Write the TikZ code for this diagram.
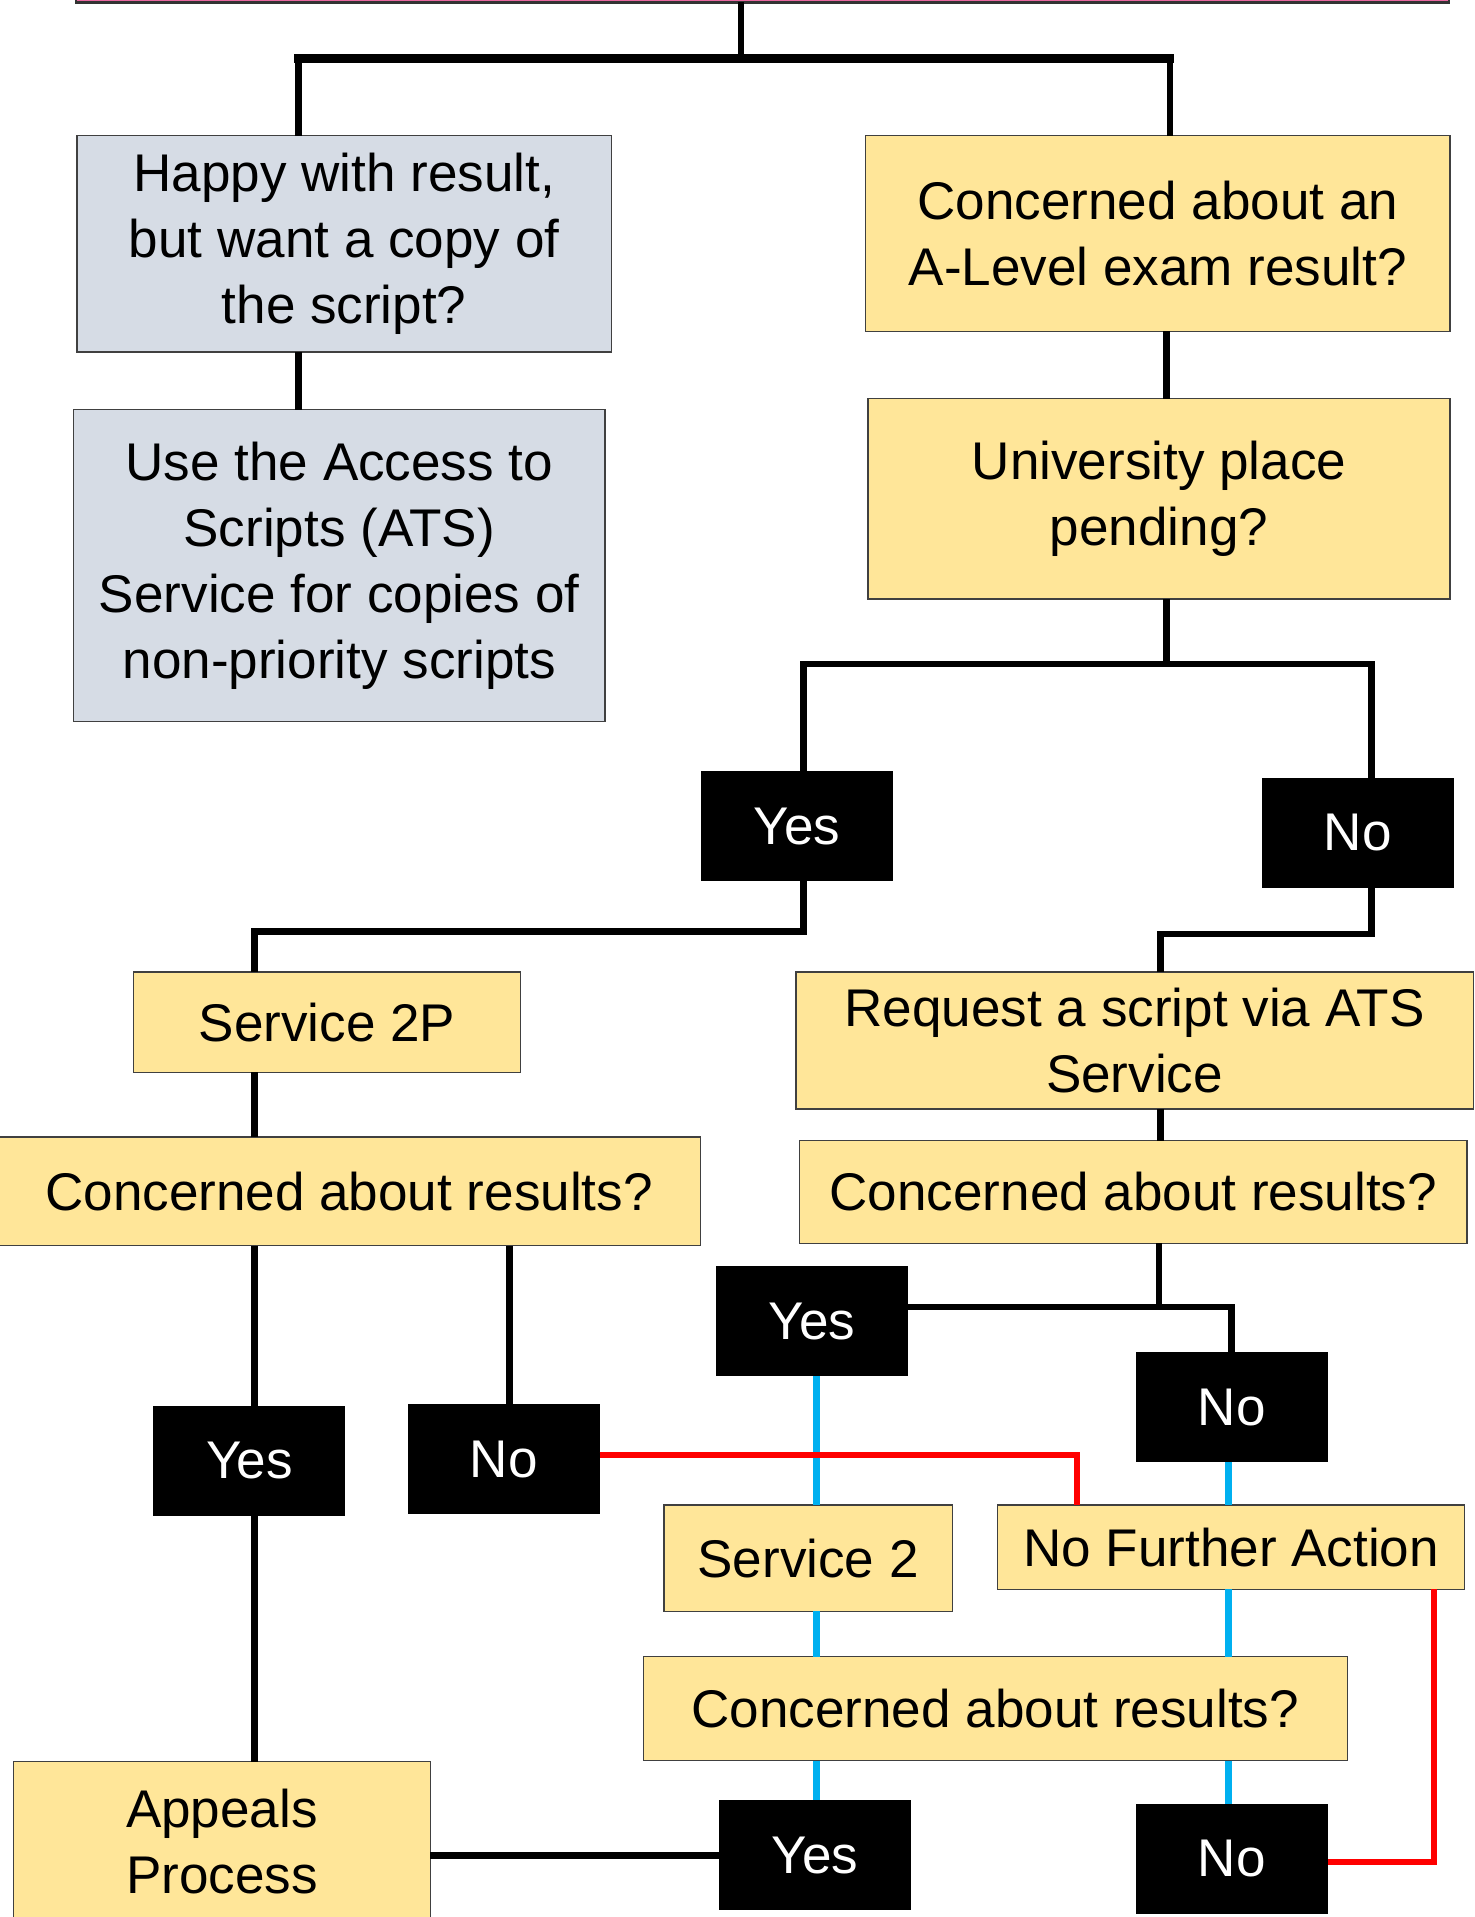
\documentclass[tikz,border=0pt]{standalone}
\usepackage{fontspec}
\setmainfont{Liberation Sans}
\definecolor{sunny}{RGB}{255,230,153}
\definecolor{pale}{RGB}{214,220,229}
\definecolor{sky}{RGB}{0,176,240}
\definecolor{rose}{RGB}{233,103,160}
\definecolor{edge}{RGB}{64,64,64}

\begin{document}
\begin{tikzpicture}[x=0.02cm, y=-0.02cm,
  every node/.style={font=\fontsize{24.7}{30.7}\selectfont, align=center, inner sep=0pt, outer sep=0pt},
  card/.style={draw=edge, line width=0.6pt},
  yellowbox/.style={card, fill=sunny},
  greybox/.style={card, fill=pale},
  answer/.style={fill=black, text=white, minimum width=3.14cm, minimum height=1.8cm},
  link/.style={line width=0.11cm},
  cyanlink/.style={sky, line width=0.11cm},
  redlink/.style={red, line width=0.11cm}]
  \useasboundingbox (0, 0) rectangle (1206, 1568);
  \clip (0, 0) rectangle (1206, 1568);
  \node [card, fill=rose, draw=black!80, line width=1pt, minimum width=22.46cm, minimum height=0.84cm] (intro) at (623.5, -19) {};
  \node [greybox, minimum width=8.74cm, minimum height=3.54cm] (happy) at (281.5, 199.5) {Happy with result,\\but want a copy of\\the script?};
  \node [yellowbox, minimum width=9.56cm, minimum height=3.2cm] (concerned) at (947, 191) {Concerned about an\\A-Level exam result?};
  \node [greybox, minimum width=8.7cm, minimum height=5.1cm] (ats) at (277.5, 462.5) {Use the Access to\\Scripts (ATS)\\Service for copies of\\non-priority scripts};
  \node [yellowbox, minimum width=9.52cm, minimum height=3.28cm] (uni) at (948, 408) {University place\\pending?};
  \node [answer] (yes1) at (652, 676) {Yes};
  \node [answer] (no1) at (1110.5, 681) {No};
  \node [yellowbox, minimum width=6.34cm, minimum height=1.64cm] (s2p) at (267.5, 836) {Service 2P};
  \node [yellowbox, minimum width=11.08cm, minimum height=2.24cm] (request) at (928, 851) {Request a script via ATS\\Service};
  \node [yellowbox, minimum width=11.5cm, minimum height=1.78cm] (concL) at (285.5, 974.5) {Concerned about results?};
  \node [yellowbox, minimum width=10.92cm, minimum height=1.68cm] (concR) at (927, 975) {Concerned about results?};
  \node [answer] (yes2) at (664, 1080.5) {Yes};
  \node [answer] (no2) at (1007.5, 1151) {No};
  \node [answer] (yesL) at (204, 1195) {Yes};
  \node [answer] (noL) at (412, 1193.5) {No};
  \node [yellowbox, minimum width=4.72cm, minimum height=1.74cm] (s2) at (661, 1274.5) {Service 2};
  \node [yellowbox, minimum width=7.64cm, minimum height=1.38cm] (nfa) at (1007, 1265.5) {No Further Action};
  \node [yellowbox, minimum width=11.52cm, minimum height=1.7cm] (concB) at (814, 1397.5) {Concerned about results?};
  \node [answer] (yes3) at (666.5, 1517.5) {Yes};
  \node [answer] (no3) at (1007.5, 1520.5) {No};
  \node [yellowbox, minimum width=6.82cm, minimum height=2.6cm] (appeals) at (181.5, 1506) {Appeals\\Process};

  \coordinate (topM) at (606, 48);
  \coordinate (topL) at (244, 48);
  \coordinate (topR) at (957, 48);
  \coordinate (uniM) at (954, 543);
  \coordinate (uniL) at (657, 543);
  \coordinate (uniR) at (1122, 543);
  \coordinate (yesBend) at (208, 762);
  \coordinate (noBend) at (949, 764);
  \coordinate (noDrop) at (417, 1100);
  \coordinate (concM) at (948, 1069);
  \coordinate (laneL) at (668, 0);
  \coordinate (laneR) at (1005, 0);
  \coordinate (redA) at (881, 1190);
  \coordinate (redB) at (1173, 1523);

  \draw [link] (intro.south -| topM) -- (topM);
  \draw [link, line width=0.14cm, line cap=rect] (topL) -- (topR);
  \draw [link] (topL) -- (happy.north -| topL);
  \draw [link] (topR) -- (concerned.north -| topR);
  \draw [link] (happy.south -| topL) -- (ats.north -| topL);
  \draw [link] (concerned.south -| uniM) -- (uni.north -| uniM);
  \draw [link] (uni.south -| uniM) -- (uniM);
  \draw [link] (yes1.north -| uniL) -- (uniL) -- (uniR) -- (no1.north -| uniR);
  \draw [link] (yes1.south -| uniL) |- (yesBend) -- (s2p.north -| yesBend);
  \draw [link] (no1.south -| uniR) |- (noBend) -- (request.north -| noBend);
  \draw [link] (s2p.south -| yesBend) -- (concL.north -| yesBend);
  \draw [link] (request.south -| noBend) -- (concR.north -| noBend);
  \draw [link] (concL.south -| yesBend) -- (yesL.north -| yesBend);
  \draw [link] (yesL.south -| yesBend) -- (appeals.north -| yesBend);
  \draw [link] (concL.south -| noDrop) -- (noL.north -| noDrop);
  \draw [link] (concR.south -| concM) -- (concM);
  \draw [link] (yes2.east |- concM) -- (concM) -| (no2.north);
  \draw [link] (appeals.east |- yes3) -- (yes3.west);
  \draw [cyanlink] (yes2.south -| laneL) -- (s2.north -| laneL);
  \draw [cyanlink] (s2.south -| laneL) -- (concB.north -| laneL);
  \draw [cyanlink] (concB.south -| laneL) -- (yes3.north -| laneL);
  \draw [cyanlink] (no2.south -| laneR) -- (nfa.north -| laneR);
  \draw [cyanlink] (nfa.south -| laneR) -- (concB.north -| laneR);
  \draw [cyanlink] (concB.south -| laneR) -- (no3.north -| laneR);
  \draw [redlink] (noL.east |- redA) -- (redA) -- (nfa.north -| redA);
  \draw [redlink] (nfa.south -| redB) -- (redB) -- (no3.east |- redB);
\end{tikzpicture}
\end{document}
